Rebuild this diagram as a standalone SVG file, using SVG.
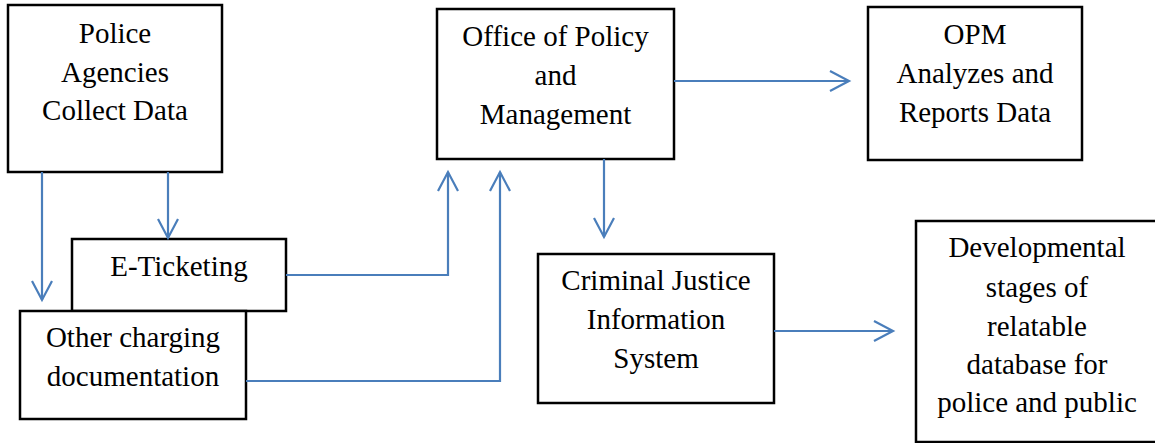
<svg xmlns="http://www.w3.org/2000/svg" width="1155" height="443" viewBox="0 0 1155 443">
<style>
.box{fill:#fff;stroke:#000;stroke-width:2.5}
.t{font-family:"Liberation Serif","Times New Roman",serif;font-size:29px;fill:#000;text-anchor:middle}
.c{fill:none;stroke:#4a7ebb;stroke-width:2.2}
</style>
<defs>
<marker id="ah" markerUnits="userSpaceOnUse" markerWidth="26" markerHeight="26" viewBox="-23 -13 26 26" refX="0" refY="0" orient="auto">
<path d="M-19,-10 L0,0 L-19,10" fill="none" stroke="#4a7ebb" stroke-width="2.2"/>
</marker>
</defs>
<rect width="1155" height="443" fill="#fff"/>
<g id="police">
<rect class="box" x="8" y="5" width="214" height="167"/>
<text class="t" x="115" y="43">Police</text>
<text class="t" x="115" y="82">Agencies</text>
<text class="t" x="115" y="120">Collect Data</text>
</g>
<g id="eticketing">
<rect class="box" x="72" y="239" width="214" height="72"/>
<text class="t" x="179" y="276">E-Ticketing</text>
</g>
<g id="other">
<rect class="box" x="20" y="311" width="226" height="108"/>
<text class="t" x="133" y="347">Other charging</text>
<text class="t" x="133" y="386">documentation</text>
</g>
<g id="opm-office">
<rect class="box" x="437" y="9" width="237" height="150"/>
<text class="t" x="555.5" y="46">Office of Policy</text>
<text class="t" x="555.5" y="85">and</text>
<text class="t" x="555.5" y="124">Management</text>
</g>
<g id="opm-analyzes">
<rect class="box" x="868" y="7" width="214" height="153"/>
<text class="t" x="975" y="44">OPM</text>
<text class="t" x="975" y="83">Analyzes and</text>
<text class="t" x="975" y="122">Reports Data</text>
</g>
<g id="cjis">
<rect class="box" x="538" y="254" width="236" height="149"/>
<text class="t" x="656" y="290">Criminal Justice</text>
<text class="t" x="656" y="329">Information</text>
<text class="t" x="656" y="368">System</text>
</g>
<g id="developmental">
<rect class="box" x="916" y="221" width="243" height="221"/>
<text class="t" x="1037" y="257">Developmental</text>
<text class="t" x="1037" y="297">stages of</text>
<text class="t" x="1037" y="336">relatable</text>
<text class="t" x="1037" y="374">database for</text>
<text class="t" x="1037" y="412">police and public</text>
</g>
<g id="connectors">
<path class="c" d="M42,172 V300" marker-end="url(#ah)"/>
<path class="c" d="M168,172 V238" marker-end="url(#ah)"/>
<path class="c" d="M286,275 H448 V172" marker-end="url(#ah)"/>
<path class="c" d="M246,381 H500 V172" marker-end="url(#ah)"/>
<path class="c" d="M674,81 H849" marker-end="url(#ah)"/>
<path class="c" d="M604,159 V237" marker-end="url(#ah)"/>
<path class="c" d="M774,331 H893" marker-end="url(#ah)"/>
</g>
</svg>
